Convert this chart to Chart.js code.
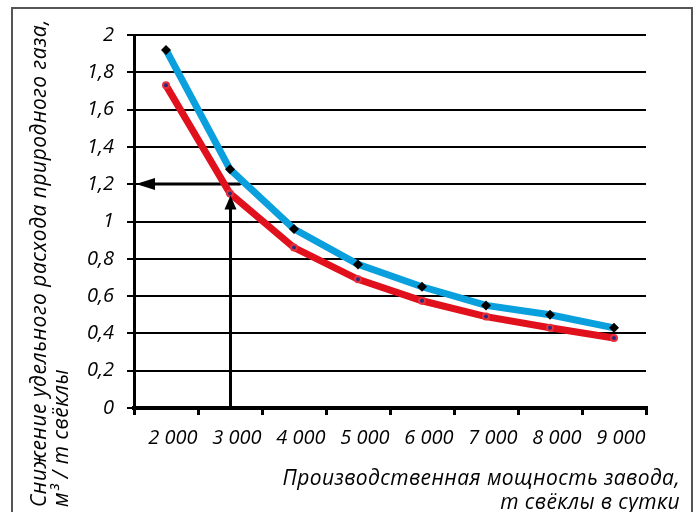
<!DOCTYPE html>
<html>
<head>
<meta charset="utf-8">
<script src="https://cdn.jsdelivr.net/npm/chart.js@4.4.1/dist/chart.umd.min.js"></script>
<style>
  html, body { margin: 0; padding: 0; background: #fff; }
  #wrap { width: 700px; height: 512px; }
</style>
</head>
<body>
<div id="wrap"><canvas id="gasChart"></canvas></div>
<script>
// производственная мощность, т свёклы в сутки
const capacity = ['2 000', '3 000', '4 000', '5 000', '6 000', '7 000', '8 000', '9 000'];
const upperCurve = [1.92, 1.28, 0.96, 0.77, 0.65, 0.55, 0.50, 0.43];
const lowerCurve = [1.73, 1.15, 0.86, 0.69, 0.575, 0.49, 0.43, 0.375];
const yTicks = [0, 0.2, 0.4, 0.6, 0.8, 1, 1.2, 1.4, 1.6, 1.8, 2];

// пример чтения графика: 3 000 т -> 1,2 м3/т
const readCategory = 1;
const readTipValue = 1.15;
const readLevel = 1.2;

const yTitle = ['Снижение удельного расхода природного газа,', 'м³ / т свёклы'];
const xTitle = ['Производственная мощность завода,', 'т свёклы в сутки'];

const FONT = '"Open Sans", "DejaVu Sans", sans-serif';

const framePlugin = {
    id: 'frame',
    beforeDraw(chart) {
        const ctx = chart.ctx;
        ctx.save();
        ctx.fillStyle = '#fff';
        ctx.fillRect(0, 0, chart.width, chart.height);
        ctx.strokeStyle = '#555';
        ctx.lineWidth = 2;
        ctx.strokeRect(12, 8, 680, 520);
        ctx.restore();
    },
    afterDraw(chart) {
        const { ctx, chartArea, scales } = chart;
        ctx.save();
        ctx.fillStyle = '#000';
        ctx.font = 'italic 21px ' + FONT;
        ctx.letterSpacing = '0.5px';
        // y title, written bottom-up
        ctx.translate(0, 507);
        ctx.rotate(-Math.PI / 2);
        ctx.textAlign = 'left';
        ctx.textBaseline = 'middle';
        ctx.fillText(yTitle[0], 0, 40);
        ctx.fillText(yTitle[1], 0, 62);
        ctx.restore();

        ctx.save();
        ctx.fillStyle = '#000';
        ctx.font = 'italic 21px ' + FONT;
        ctx.letterSpacing = '0.4px';
        ctx.textAlign = 'right';
        ctx.textBaseline = 'middle';
        ctx.fillText(xTitle[0], 680, 479);
        ctx.fillText(xTitle[1], 680, 503);
        ctx.restore();

        // x axis line on top of everything
        const y0 = Math.round(scales.y.getPixelForValue(0));
        ctx.save();
        ctx.fillStyle = '#000';
        ctx.fillRect(chartArea.left - 2, y0 - 2, chartArea.right - chartArea.left + 4, 4);
        ctx.restore();
    }
};

function arrowHead(ctx, x, y, dir, len, half) {
    ctx.beginPath();
    if (dir === 'up') {
        ctx.moveTo(x, y);
        ctx.lineTo(x - half, y + len);
        ctx.lineTo(x + half, y + len);
    } else {
        ctx.moveTo(x, y);
        ctx.lineTo(x + len, y - half);
        ctx.lineTo(x + len, y + half);
    }
    ctx.closePath();
    ctx.fill();
}

const arrowPlugin = {
    id: 'readArrows',
    beforeDatasetsDraw(chart) {
        const { ctx, scales, chartArea } = chart;
        const x = Math.round(scales.x.getPixelForValue(readCategory)) + 0.5;
        const y0 = scales.y.getPixelForValue(0);
        const yTip = scales.y.getPixelForValue(readTipValue);
        const yLevel = Math.round(scales.y.getPixelForValue(readLevel));
        const xLeft = chartArea.left + 2;
        ctx.save();
        ctx.strokeStyle = '#000';
        ctx.fillStyle = '#000';
        ctx.lineWidth = 3;
        ctx.beginPath();
        ctx.moveTo(x, y0);
        ctx.lineTo(x, yTip + 12);
        ctx.stroke();
        ctx.beginPath();
        ctx.moveTo(x + 10, yLevel);
        ctx.lineTo(xLeft + 14, yLevel);
        ctx.stroke();
        arrowHead(ctx, xLeft, yLevel, 'left', 19, 6);
        ctx.restore();
    },
    afterDatasetsDraw(chart) {
        const { ctx, scales } = chart;
        const x = Math.round(scales.x.getPixelForValue(readCategory)) + 0.5;
        const yTip = scales.y.getPixelForValue(readTipValue);
        ctx.save();
        ctx.fillStyle = '#000';
        arrowHead(ctx, x, yTip + 2, 'up', 14, 6);
        ctx.restore();
    }
};

new Chart(document.getElementById('gasChart').getContext('2d'), {
    type: 'line',
    data: {
        labels: capacity,
        datasets: [{
            label: 'upper',
            data: upperCurve,
            borderColor: '#0a9fdd',
            borderWidth: 7,
            tension: 0,
            pointStyle: 'rectRot',
            pointRadius: 5,
            pointBackgroundColor: '#000',
            pointBorderColor: '#000',
            pointBorderWidth: 0
        }, {
            label: 'lower',
            data: lowerCurve,
            borderColor: '#e0101c',
            borderWidth: 7,
            tension: 0,
            pointStyle: 'circle',
            pointRadius: 3,
            pointBackgroundColor: '#2a2a80',
            pointBorderColor: '#e8303a',
            pointBorderWidth: 2
        }]
    },
    options: {
        responsive: true,
        maintainAspectRatio: false,
        animation: false,
        layout: {
            padding: { left: 40, right: 54, top: 35, bottom: 20 }
        },
        scales: {
            x: {
                offset: true,
                afterFit: s => { s.height = 84; },
                grid: {
                    offset: true,
                    drawOnChartArea: false,
                    drawTicks: true,
                    tickLength: 7,
                    tickWidth: 3,
                    color: '#000'
                },
                border: { color: '#000', width: 3 },
                ticks: {
                    color: '#000',
                    font: { family: FONT, size: 20, style: 'italic' },
                    padding: 11,
                    labelOffset: 7,
                    maxRotation: 0
                }
            },
            y: {
                min: 0,
                max: 2,
                afterFit: s => { s.width = 94; },
                afterBuildTicks: s => { s.ticks = yTicks.map(v => ({ value: v })); },
                grid: {
                    color: '#000',
                    lineWidth: 2,
                    tickLength: 7,
                    tickWidth: 2
                },
                border: { color: '#000', width: 3 },
                ticks: {
                    color: '#000',
                    font: { family: FONT, size: 20, style: 'italic' },
                    padding: 13,
                    callback: v => String(v).replace('.', ',')
                }
            }
        },
        plugins: {
            legend: { display: false },
            tooltip: { enabled: false }
        }
    },
    plugins: [framePlugin, arrowPlugin]
});
</script>
</body>
</html>
